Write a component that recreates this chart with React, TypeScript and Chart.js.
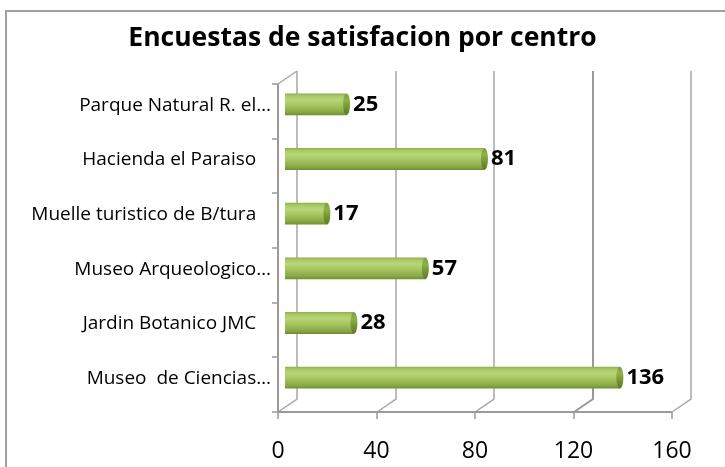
import React, { useEffect, useRef } from "react";
import { Chart, registerables } from "chart.js";

Chart.register(...registerables);

const chartTitle = "Encuestas de satisfacion por centro";
const categories = [
  "Parque Natural R. el…",
  "Hacienda el Paraiso   ",
  "Muelle turistico de B/tura   ",
  "Museo Arqueologico…",
  "Jardin Botanico JMC   ",
  "Museo  de Ciencias…",
];
const values = [25, 81, 17, 57, 28, 136];
const xMin = 0;
const xMax = 160;
const xStep = 40;

const FONT = "'Open Sans', 'DejaVu Sans', sans-serif";
const DEPTH_X = 19;
const DEPTH_Y = -13;
const BAR_SHIFT_X = 7;
const BAR_SHIFT_Y = -7;
const CAP_RX = 3.5;

const wallPlugin = {
  id: "wall3d",
  beforeDraw(chart: any) {
    const ctx = chart.ctx;
    ctx.save();
    ctx.strokeStyle = "#a0a0a0";
    ctx.lineWidth = 2;
    ctx.beginPath();
    ctx.moveTo(6, 467);
    ctx.lineTo(6, 11);
    ctx.lineTo(725, 11);
    ctx.stroke();
    ctx.fillStyle = "#000";
    ctx.font = `bold 26.5px ${FONT}`;
    ctx.textAlign = "center";
    ctx.textBaseline = "alphabetic";
    ctx.fillText(chartTitle, chart.width / 2, 46);
    ctx.restore();
  },
  beforeDatasetsDraw(chart: any) {
    const ctx = chart.ctx;
    const { left, right, top, bottom } = chart.chartArea;
    const xs = chart.scales.x;
    ctx.save();
    const ticks: number[] = [];
    for (let v = xMin; v <= xMax; v += xStep) ticks.push(v);
    ticks.forEach((v, i) => {
      const px = Math.round(xs.getPixelForValue(v));
      ctx.strokeStyle = i === 3 ? "#999999" : "#a6a6a6";
      ctx.lineWidth = i === 3 ? 2 : 1.5;
      ctx.beginPath();
      ctx.moveTo(px, bottom);
      ctx.lineTo(px + DEPTH_X, bottom + DEPTH_Y);
      ctx.lineTo(px + DEPTH_X, top + DEPTH_Y);
      ctx.stroke();
    });
    ctx.strokeStyle = "#a6a6a6";
    ctx.lineWidth = 1.5;
    ctx.beginPath();
    ctx.moveTo(left, top);
    ctx.lineTo(left + DEPTH_X, top + DEPTH_Y);
    ctx.stroke();
    ctx.strokeStyle = "#9a9a9a";
    ctx.lineWidth = 2;
    ctx.beginPath();
    ctx.moveTo(left, top);
    ctx.lineTo(left, bottom);
    ctx.lineTo(right, bottom);
    ctx.stroke();
    const n = categories.length;
    const band = (bottom - top) / n;
    ctx.lineWidth = 1.5;
    for (let i = 0; i <= n; i++) {
      const y = Math.round(top + i * band);
      ctx.beginPath();
      ctx.moveTo(left - 6, y);
      ctx.lineTo(left, y);
      ctx.stroke();
    }
    ticks.forEach((v) => {
      const px = Math.round(xs.getPixelForValue(v));
      ctx.beginPath();
      ctx.moveTo(px, bottom);
      ctx.lineTo(px, bottom + 7);
      ctx.stroke();
    });
    ctx.restore();
    ctx.save();
    ctx.translate(BAR_SHIFT_X, BAR_SHIFT_Y);
  },
  afterDatasetsDraw(chart: any) {
    const ctx = chart.ctx;
    const meta = chart.getDatasetMeta(0);
    meta.data.forEach((el: any) => {
      const h = el.height;
      const g = ctx.createLinearGradient(0, el.y - h / 2, 0, el.y + h / 2);
      g.addColorStop(0, "#7e9d3e");
      g.addColorStop(0.3, "#8fb04a");
      g.addColorStop(0.7, "#6f8f31");
      g.addColorStop(1, "#5f7c28");
      ctx.fillStyle = g;
      ctx.beginPath();
      ctx.ellipse(el.x, el.y, CAP_RX, h / 2, 0, 0, Math.PI * 2);
      ctx.fill();
    });
    ctx.restore();
    ctx.save();
    ctx.fillStyle = "#000";
    ctx.font = `bold 22px ${FONT}`;
    ctx.textAlign = "left";
    ctx.textBaseline = "middle";
    meta.data.forEach((el: any, i: number) => {
      ctx.fillText(String(values[i]), el.x + BAR_SHIFT_X + CAP_RX + 3, el.y + BAR_SHIFT_Y);
    });
    ctx.restore();
  },
};

export default function App() {
  const ref = useRef<HTMLCanvasElement | null>(null);
  useEffect(() => {
    if (!ref.current) return;
    const chart = new Chart(ref.current, {
      type: "bar",
      data: {
        labels: categories,
        datasets: [
          {
            data: values,
            clip: false as any,
            barPercentage: 0.4,
            categoryPercentage: 1,
            borderWidth: 0,
            backgroundColor: (c: any) => {
              const ch = c.chart;
              const ys = ch.scales && ch.scales.y;
              if (!ys || c.dataIndex === undefined) return "#9bbb59";
              const center = ys.getPixelForValue(c.dataIndex);
              const h = ((ys.bottom - ys.top) / categories.length) * 0.4;
              if (!isFinite(center) || !isFinite(h) || h <= 0) return "#9bbb59";
              const g = ch.ctx.createLinearGradient(0, center - h / 2, 0, center + h / 2);
              g.addColorStop(0, "#8eae4c");
              g.addColorStop(0.12, "#a9ca66");
              g.addColorStop(0.3, "#b8d678");
              g.addColorStop(0.55, "#a4c55f");
              g.addColorStop(0.85, "#88aa45");
              g.addColorStop(1, "#6e8d33");
              return g;
            },
          },
        ],
      },
      options: {
        indexAxis: "y",
        responsive: false,
        animation: false,
        layout: { padding: { left: 0, right: 53, top: 84, bottom: 0 } },
        plugins: {
          legend: { display: false },
          tooltip: { enabled: false },
          title: { display: false },
        },
        scales: {
          x: {
            type: "linear",
            min: xMin,
            max: xMax,
            ticks: { stepSize: xStep, color: "#000", font: { family: FONT, size: 23 }, padding: 26 },
            grid: { display: false, drawTicks: false },
            border: { display: false },
            afterFit: (s: any) => {
              s.height = 55;
            },
          },
          y: {
            type: "category",
            ticks: { color: "#000", font: { family: FONT, size: 19 }, padding: 7, labelOffset: -6 },
            grid: { display: false, drawTicks: false },
            border: { display: false },
            afterFit: (s: any) => {
              s.width = 278;
            },
          },
        },
      },
      plugins: [wallPlugin],
    } as any);
    return () => chart.destroy();
  }, []);
  return (
    <div style={{ position: "absolute", left: 0, top: 0, width: 725, height: 467 }}>
      <canvas ref={ref} width={725} height={467} style={{ display: "block" }} />
    </div>
  );
}
